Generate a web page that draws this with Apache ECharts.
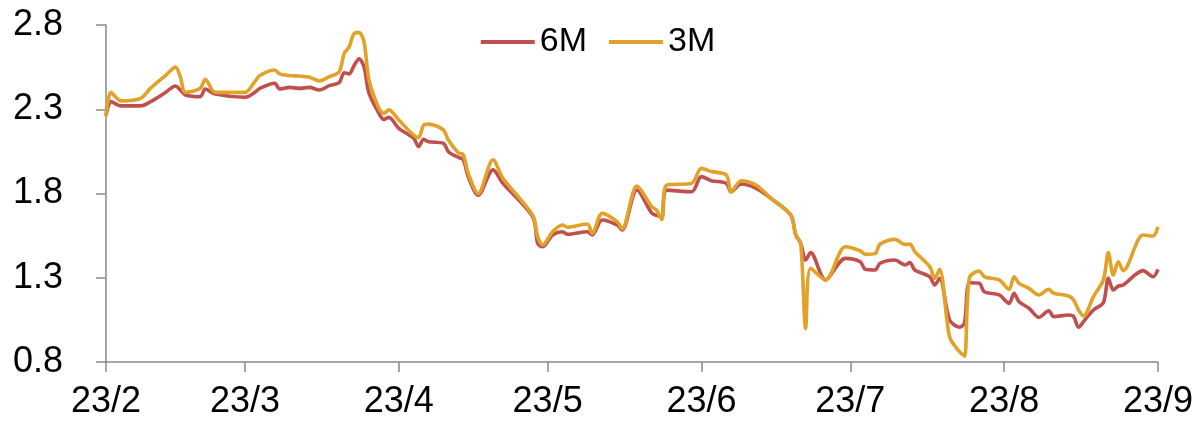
<!DOCTYPE html>
<html>
<head>
<meta charset="utf-8">
<script src="https://cdn.jsdelivr.net/npm/echarts@6/dist/echarts.min.js"></script>
<style>
  html, body { margin: 0; padding: 0; background: #ffffff; }
  #chart { width: 1196px; height: 423px; }
</style>
</head>
<body>
<div id="chart"></div>
<script>
// Observation dates and the two tenor series (6M / 3M), in percent
const obsDates = [
  '2023-02-01','2023-02-02','2023-02-04','2023-02-08','2023-02-10','2023-02-13','2023-02-15','2023-02-16',
  '2023-02-17','2023-02-20','2023-02-21','2023-02-23','2023-03-01','2023-03-03','2023-03-04','2023-03-07',
  '2023-03-08','2023-03-10','2023-03-12','2023-03-14','2023-03-16','2023-03-18','2023-03-20','2023-03-21',
  '2023-03-22','2023-03-23','2023-03-24','2023-03-25','2023-03-26','2023-03-28','2023-03-29','2023-03-30',
  '2023-04-01','2023-04-04','2023-04-05','2023-04-06','2023-04-07','2023-04-10','2023-04-11','2023-04-13',
  '2023-04-14','2023-04-15','2023-04-17','2023-04-20','2023-04-22','2023-04-28','2023-04-29','2023-04-30',
  '2023-05-02','2023-05-04','2023-05-05','2023-05-09','2023-05-10','2023-05-12','2023-05-15','2023-05-16',
  '2023-05-19','2023-05-22','2023-05-23','2023-05-24','2023-05-25','2023-05-30','2023-06-01','2023-06-03',
  '2023-06-06','2023-06-07','2023-06-09','2023-06-12','2023-06-15','2023-06-19','2023-06-20','2023-06-21',
  '2023-06-22','2023-06-23','2023-06-26','2023-06-30','2023-07-03','2023-07-04','2023-07-06','2023-07-07',
  '2023-07-10','2023-07-12','2023-07-13','2023-07-14','2023-07-17','2023-07-18','2023-07-19','2023-07-21',
  '2023-07-23','2023-07-24','2023-07-25','2023-07-27','2023-07-28','2023-07-31','2023-08-02','2023-08-03',
  '2023-08-04','2023-08-06','2023-08-08','2023-08-10','2023-08-11','2023-08-14','2023-08-15','2023-08-16',
  '2023-08-17','2023-08-19','2023-08-21','2023-08-22','2023-08-23','2023-08-24','2023-08-25','2023-08-29',
  '2023-08-31','2023-09-01'
];

const rate6M = [
  2.26, 2.345, 2.32, 2.32, 2.345, 2.40, 2.438, 2.414,
  2.385, 2.375, 2.42, 2.39, 2.371, 2.40, 2.424, 2.454,
  2.42, 2.43, 2.424, 2.43, 2.414, 2.44, 2.458, 2.517,
  2.51, 2.56, 2.60, 2.55, 2.395, 2.276, 2.24, 2.252,
  2.187, 2.128, 2.078, 2.122, 2.107, 2.098, 2.048, 2.015,
  2.00, 1.90, 1.79, 1.94, 1.86, 1.662, 1.504, 1.484,
  1.554, 1.573, 1.558, 1.573, 1.554, 1.643, 1.613, 1.583,
  1.821, 1.683, 1.67, 1.66, 1.82, 1.81, 1.90, 1.876,
  1.86, 1.81, 1.856, 1.83, 1.771, 1.672, 1.554, 1.504,
  1.405, 1.449, 1.287, 1.415, 1.395, 1.35, 1.346, 1.386,
  1.405, 1.376, 1.39, 1.346, 1.306, 1.257, 1.297, 1.05,
  1.006, 1.03, 1.27, 1.267, 1.217, 1.198, 1.148, 1.208,
  1.158, 1.119, 1.065, 1.104, 1.069, 1.079, 1.07, 1.006,
  1.04, 1.109, 1.152, 1.297, 1.227, 1.25, 1.257, 1.342,
  1.306, 1.35
];

const rate3M = [
  2.26, 2.40, 2.35, 2.365, 2.425, 2.50, 2.55, 2.49,
  2.40, 2.425, 2.478, 2.40, 2.40, 2.463, 2.50, 2.533,
  2.51, 2.50, 2.497, 2.49, 2.468, 2.493, 2.523, 2.632,
  2.67, 2.75, 2.755, 2.70, 2.474, 2.306, 2.276, 2.296,
  2.236, 2.147, 2.133, 2.206, 2.212, 2.177, 2.117, 2.042,
  2.03, 1.92, 1.80, 2.00, 1.89, 1.67, 1.544, 1.494,
  1.573, 1.613, 1.60, 1.619, 1.564, 1.682, 1.633, 1.59,
  1.844, 1.722, 1.70, 1.645, 1.85, 1.86, 1.949, 1.93,
  1.91, 1.81, 1.876, 1.85, 1.771, 1.672, 1.554, 1.504,
  0.999, 1.356, 1.287, 1.484, 1.46, 1.439, 1.443, 1.50,
  1.528, 1.498, 1.50, 1.455, 1.366, 1.297, 1.35, 0.95,
  0.861, 0.835, 1.30, 1.34, 1.306, 1.287, 1.231, 1.306,
  1.267, 1.237, 1.198, 1.231, 1.208, 1.192, 1.168, 1.109,
  1.073, 1.188, 1.287, 1.449, 1.316, 1.395, 1.342, 1.554,
  1.548, 1.603
];

const seriesNames = ['6M', '3M'];
const yTicks = [0.8, 1.3, 1.8, 2.3, 2.8];
const axisStart = '2023-02-01';
const axisEnd = '2023-09-01';

// Daily calendar for the category axis so dates are evenly spaced
function buildCalendar(start, end) {
  const out = [];
  const d = new Date(start + 'T00:00:00Z');
  const last = new Date(end + 'T00:00:00Z');
  while (d <= last) {
    out.push(d.toISOString().slice(0, 10));
    d.setUTCDate(d.getUTCDate() + 1);
  }
  return out;
}
const calendar = buildCalendar(axisStart, axisEnd);
const isMonthStart = (idx, val) => val.slice(8) === '01';
const monthLabel = (val) => val.slice(2, 4) + '/' + parseInt(val.slice(5, 7), 10);

const font = 'Liberation Sans, Arial, sans-serif';
const axisGray = '#898989';

const chart = echarts.init(document.getElementById('chart'), null, { renderer: 'canvas' });
chart.setOption({
  animation: false,
  backgroundColor: '#ffffff',
  color: ['#C0504D', '#E2A229'],
  legend: {
    data: seriesNames,
    icon: 'rect',
    left: 'center',
    top: 20,
    itemWidth: 54,
    itemHeight: 4,
    itemGap: 22,
    textStyle: { fontFamily: font, fontSize: 34, color: '#000000', padding: [0, 0, 0, 0] }
  },
  grid: { left: 106, right: 38, top: 25, bottom: 61, containLabel: false },
  xAxis: {
    type: 'category',
    data: calendar,
    boundaryGap: false,
    axisLine: { lineStyle: { color: axisGray, width: 1.5 } },
    axisTick: { interval: isMonthStart, length: 10, lineStyle: { color: axisGray, width: 1.5 } },
    axisLabel: {
      interval: isMonthStart,
      formatter: monthLabel,
      margin: 22,
      fontFamily: font,
      fontSize: 36,
      color: '#000000'
    },
    splitLine: { show: false }
  },
  yAxis: {
    type: 'value',
    min: 0.8,
    max: 2.8,
    axisLine: { show: true, lineStyle: { color: axisGray, width: 1.5 } },
    axisTick: { show: true, customValues: yTicks, length: 10, lineStyle: { color: axisGray, width: 1.5 } },
    axisLabel: {
      customValues: yTicks,
      formatter: (v) => v.toFixed(1),
      margin: 43,
      fontFamily: font,
      fontSize: 36,
      color: '#000000'
    },
    splitLine: { show: false }
  },
  series: [
    {
      name: seriesNames[0],
      type: 'line',
      data: obsDates.map((d, i) => [d, rate6M[i]]),
      symbol: 'none',
      smooth: 0.3,
      lineStyle: { width: 3.6 }
    },
    {
      name: seriesNames[1],
      type: 'line',
      data: obsDates.map((d, i) => [d, rate3M[i]]),
      symbol: 'none',
      smooth: 0.3,
      lineStyle: { width: 3.6 }
    }
  ]
});
</script>
</body>
</html>
